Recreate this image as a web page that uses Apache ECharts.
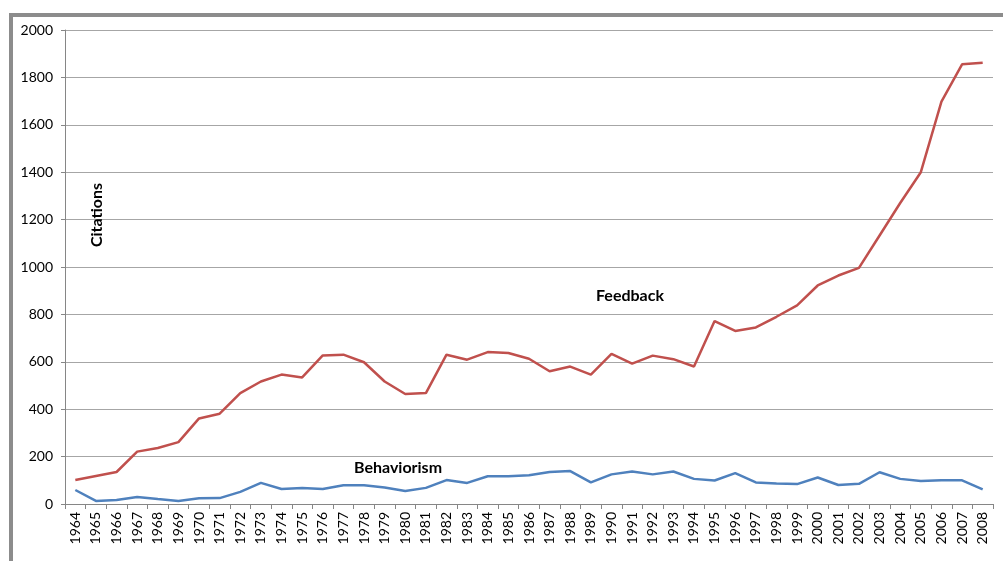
<!DOCTYPE html>
<html>
<head>
<meta charset="utf-8">
<script src="https://cdn.jsdelivr.net/npm/echarts@6/dist/echarts.min.js"></script>
<style>
html,body{margin:0;padding:0;background:#fff;}
#chart{width:1003px;height:561px;}
</style>
</head>
<body>
<div id="chart"></div>
<script>
const years = ['1964','1965','1966','1967','1968','1969','1970','1971','1972','1973','1974','1975','1976','1977','1978','1979','1980','1981','1982','1983','1984','1985','1986','1987','1988','1989','1990','1991','1992','1993','1994','1995','1996','1997','1998','1999','2000','2001','2002','2003','2004','2005','2006','2007','2008'];
const feedback = [101,118,135,221,236,261,361,381,468,517,546,534,627,630,598,517,464,468,630,609,641,637,613,560,580,546,633,592,626,611,580,772,730,745,790,838,922,964,996,1133,1270,1400,1698,1855,1862];
const behaviorism = [59,13,17,30,21,13,24,25,51,89,63,68,63,79,79,70,55,68,101,89,117,117,121,135,139,91,125,137,125,137,106,99,130,91,87,84,112,80,85,134,106,97,100,100,62];
const yTicks = [0,200,400,600,800,1000,1200,1400,1600,1800,2000];

const chart = echarts.init(document.getElementById('chart'));
chart.setOption({
  animation: false,
  backgroundColor: '#fff',
  grid: {left: 65, right: 10, top: 30, bottom: 57},
  xAxis: {
    type: 'category',
    data: years,
    boundaryGap: true,
    axisLine: {lineStyle: {color: '#868686', width: 1}},
    axisTick: {show: true, alignWithLabel: false, length: 5, lineStyle: {color: '#868686'}},
    axisLabel: {rotate: 90, interval: 0, margin: 8, fontFamily: 'Lato', fontSize: 14, color: '#000'}
  },
  yAxis: {
    type: 'value',
    min: yTicks[0],
    max: yTicks[yTicks.length - 1],
    interval: 200,
    axisLine: {show: true, lineStyle: {color: '#868686', width: 1}},
    axisTick: {show: true, length: 4, lineStyle: {color: '#868686'}},
    axisLabel: {margin: 12, fontFamily: 'Lato', fontSize: 14, color: '#000', formatter: v => String(v)},
    splitLine: {lineStyle: {color: '#a6a6a6', width: 1}}
  },
  series: [
    {name: 'Feedback', type: 'line', data: feedback, symbol: 'none',
     lineStyle: {color: '#c0504d', width: 2.5}, itemStyle: {color: '#c0504d'}},
    {name: 'Behaviorism', type: 'line', data: behaviorism, symbol: 'none',
     lineStyle: {color: '#4f81bd', width: 2.5}, itemStyle: {color: '#4f81bd'}}
  ],
  graphic: [
    {type: 'rect', silent: true, z: 100,
     shape: {x: 11, y: 15, width: 1200, height: 800},
     style: {fill: 'none', stroke: '#8c8c8c', lineWidth: 4}},
    {type: 'text', z: 100, x: 97, y: 215, rotation: Math.PI / 2,
     style: {text: 'Citations', font: 'bold 16px Lato', fill: '#000', textAlign: 'center', textVerticalAlign: 'middle'}},
    {type: 'text', z: 100, x: 630, y: 296,
     style: {text: 'Feedback', font: 'bold 16px Lato', fill: '#000', textAlign: 'center', textVerticalAlign: 'middle'}},
    {type: 'text', z: 100, x: 398, y: 468,
     style: {text: 'Behaviorism', font: 'bold 16px Lato', fill: '#000', textAlign: 'center', textVerticalAlign: 'middle'}}
  ]
});
</script>
</body>
</html>
